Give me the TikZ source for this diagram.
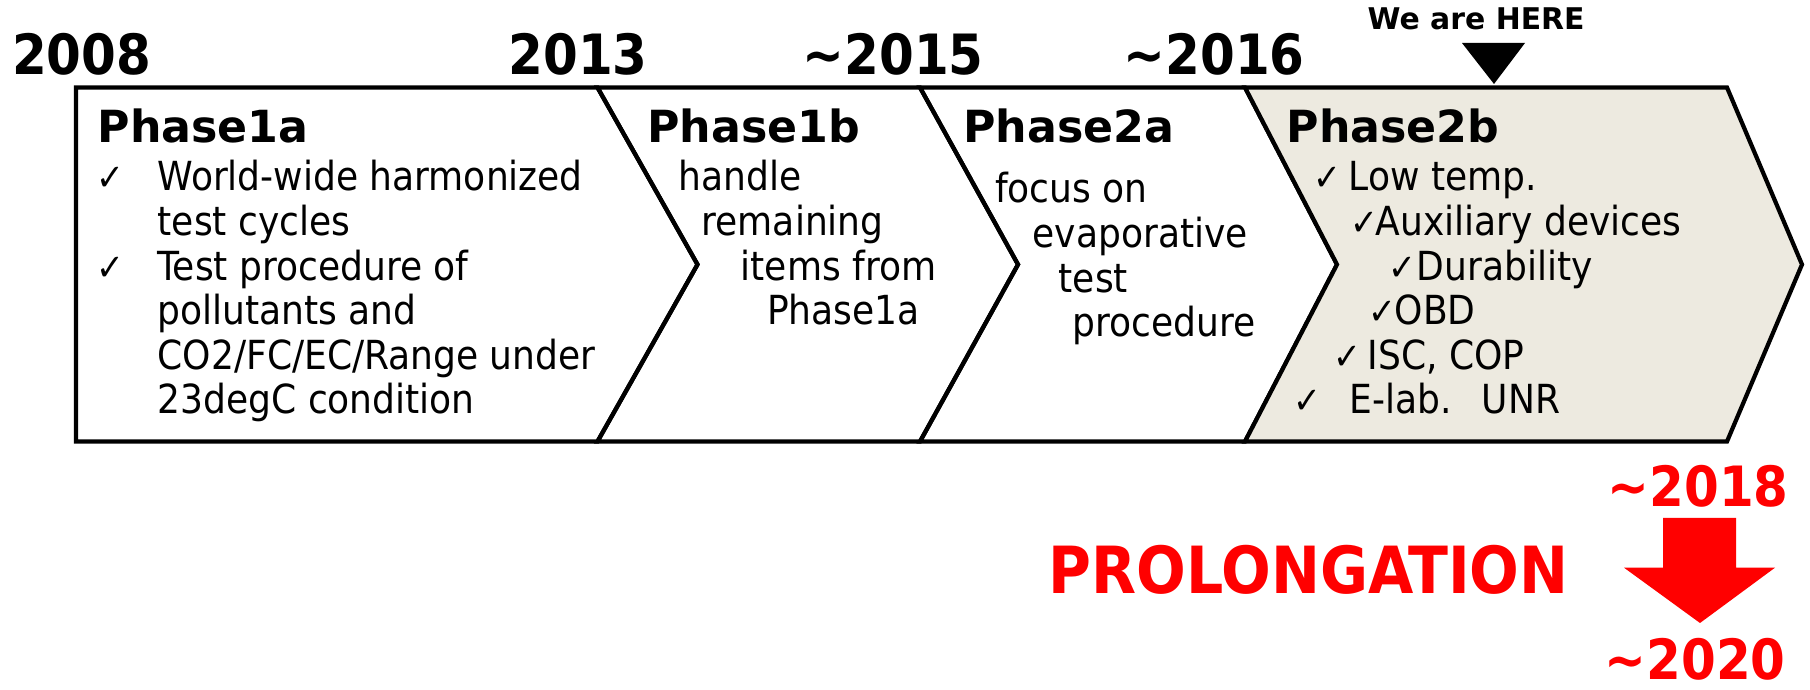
\documentclass[tikz,border=0pt]{standalone}
\usepackage{fontspec}
\setmainfont{DejaVu Sans Condensed}
\newfontfamily\widefont{DejaVu Sans}
\definecolor{phasefill}{RGB}{237,234,224}
\definecolor{prored}{RGB}{255,0,0}
\begin{document}
\begin{tikzpicture}[x=0.1mm,y=-0.1mm,
    txt/.style={anchor=base west,inner sep=0pt,font=\fontsize{11.4}{13}\selectfont},
    chk/.style={anchor=base west,inner sep=0pt,font=\fontsize{10.5}{12}\selectfont},
    head/.style={anchor=base west,inner sep=0pt,font=\widefont\bfseries\fontsize{12.6}{14}\selectfont},
    year/.style={anchor=base west,inner sep=0pt,font=\bfseries\fontsize{15.8}{18}\selectfont},
    phase/.style={line width=1.2pt,line join=miter}]
            \useasboundingbox(0,0)rectangle(1810,690);
            % chevrons
            \draw[phase](76,87.5)--(597.5,87.5)--(697.5,264.5)--(597.5,441.5)--(76,441.5)--cycle;
            \draw[phase](597.5,87.5)--(920,87.5)--(1018,264.5)--(920,441.5)--(597.5,441.5)--(697.5,264.5)--cycle;
            \draw[phase](920,87.5)--(1245,87.5)--(1337,264.5)--(1245,441.5)--(920,441.5)--(1018,264.5)--cycle;
            \draw[phase,fill=phasefill](1245,87.5)--(1727,87.5)--(1802,264.5)--(1727,441.5)--(1245,441.5)--(1337,264.5)--cycle;
            % years
            \node[year](y2008)at(11.5,75){2008};
            \node[year](y2013)at(508,75){2013};
            \node[year](y2015)at(802,75){\textasciitilde2015};
            \node[year](y2016)at(1123,75){\textasciitilde2016};
            \node[anchor=base west,inner sep=0pt,font=\widefont\bfseries\fontsize{8.5}{10}\selectfont](here)at(1367,30){We are HERE};
            \fill(1462,43)--(1525,43)--(1494,84)--cycle;
            % Phase1a
            \node[head](p1a)at(97,143){Phase1a};
            \node[chk](c11)at(96,191){✓};
            \node[txt](t11)at(157,191){World-wide harmonized};
            \node[txt](t12)at(157,235.6){test cycles};
            \node[chk](c12)at(96,280.2){✓};
            \node[txt](t13)at(157,280.2){Test procedure of};
            \node[txt](t14)at(157,324.8){pollutants and};
            \node[txt](t15)at(157,369.4){CO2/FC/EC/Range under};
            \node[txt](t16)at(157,414){23degC condition};
            % Phase1b
            \node[head](p1b)at(646.5,143){Phase1b};
            \node[txt](t21)at(678,191){handle};
            \node[txt](t22)at(701,235.6){remaining};
            \node[txt](t23)at(740,280.2){items from};
            \node[txt](t24)at(766.5,324.8){Phase1a};
            % Phase2a
            \node[head](p2a)at(962.7,143){Phase2a};
            \node[txt](t31)at(994.5,203){focus on};
            \node[txt](t32)at(1032,247.6){evaporative};
            \node[txt](t33)at(1058,292.2){test};
            \node[txt](t34)at(1072,336.8){procedure};
            % Phase2b
            \node[head](p2b)at(1286,143){Phase2b};
            \node[chk](c41)at(1313,191){✓};
            \node[txt](t41)at(1348,191){Low temp.};
            \node[chk](c42)at(1350,235.6){✓};
            \node[txt](t42)at(1375,235.6){Auxiliary devices};
            \node[chk](c43)at(1388,280.2){✓};
            \node[txt](t43)at(1416,280.2){Durability};
            \node[chk](c44)at(1368,324.8){✓};
            \node[txt](t44)at(1394,324.8){OBD};
            \node[chk](c45)at(1333,369.4){✓};
            \node[txt](t45)at(1367,369.4){ISC, COP};
            \node[chk](c46)at(1293,414){✓};
            \node[txt](t46)at(1349,414){E-lab.\hspace{0.75em}UNR};
            % prolongation
            \node[year,text=prored](y2018)at(1607,506.7){\textasciitilde2018};
            \node[year,text=prored,font=\bfseries\fontsize{18.5}{21}\selectfont](prolong)at(1048,594){PROLONGATION};
            \node[year,text=prored](y2020)at(1604,680){\textasciitilde2020};
            \fill[prored](1663,518)--(1736,518)--(1736,567.7)--(1775,567.7)--(1700,623)--(1624,567.7)--(1663,567.7)--cycle;
        \end{tikzpicture}
\end{document}
